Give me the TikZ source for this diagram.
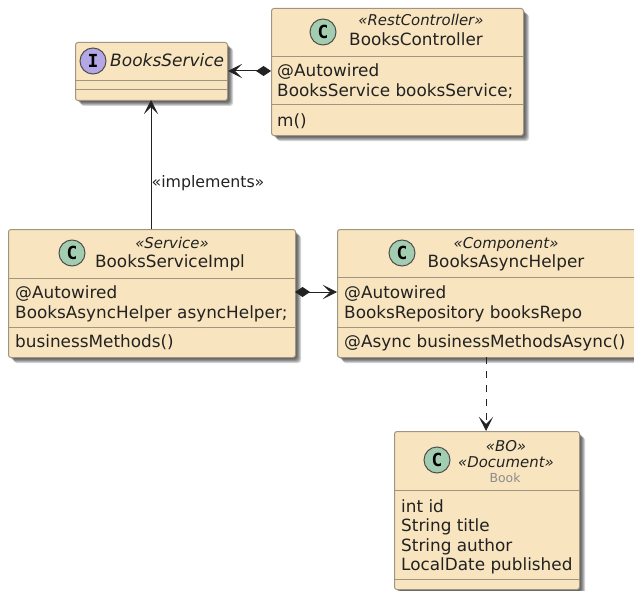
\documentclass[tikz,border=0pt]{standalone}
\usepackage{fontspec}
\setmainfont{DejaVu Sans}
\newfontfamily\markfont{DejaVu Sans Mono}
\usetikzlibrary{arrows.meta,calc}
\definecolor{boxfill}{HTML}{F8E5BF}
\definecolor{boxline}{HTML}{A09680}
\definecolor{inkc}{HTML}{222222}
\definecolor{cfill}{HTML}{A3CDB0}
\definecolor{ifill}{HTML}{B4A7E5}
\tikzset{
  x=1pt,y=-1pt,
  shadowlayer/.style={fill=black,fill opacity=0.17,draw=none,rounded corners=3pt},
  umlbox/.style={draw=boxline,fill=boxfill,line width=1pt,rounded corners=2.5pt},
  divider/.style={draw=boxline,line width=1pt},
  member/.style={anchor=base west,inner sep=0pt,font=\fontsize{16.85}{20}\selectfont,text=inkc},
  title/.style={anchor=base,inner sep=0pt,font=\fontsize{16.85}{20}\selectfont,text=inkc},
  stereo/.style={anchor=base,inner sep=0pt,font=\fontsize{14.9}{17}\selectfont\itshape,text=inkc},
  spotc/.style={circle,draw=inkc!80,line width=1pt,fill=cfill,minimum size=26pt,inner sep=0pt,text=black,font=\markfont\bfseries\fontsize{18}{18}\selectfont},
  spoti/.style={spotc,fill=ifill},
  link/.style={draw=inkc,line width=1pt},
  openhead/.tip={Stealth[length=14pt,width=14pt,inset=7pt,inkc]},
  diamondhead/.tip={Diamond[length=15pt,width=10pt,inkc]},
}
\newcommand{\umlframe}[5]{% name, x1, y1, x2, y2
  \foreach \d in {2,3,4,5,6}{
    \fill[shadowlayer] (#2+\d,#3+\d) rectangle (#4+\d,#5+\d);
  }
  \node[umlbox,anchor=north west,inner sep=0pt,minimum width=#4pt-#2pt,minimum height=#5pt-#3pt] (#1) at (#2,#3) {};
}
\begin{document}
\begin{tikzpicture}
\useasboundingbox (0,0) rectangle (634,591);
\begin{scope}
\clip (0,0) rectangle (634,591);

% BooksService
\umlframe{service}{75}{42}{227}{100}
\draw[divider] (75,81) -- (227,81);
\draw[divider] (75,90) -- (227,90);
\node[spoti] (servicespot) at (93,61) {I};
\node[anchor=base west,inner sep=0pt,font=\fontsize{17}{20}\selectfont\itshape,text=inkc] (servicename) at (110,67) {BooksService};

% BooksController
\umlframe{controller}{271}{8}{523}{135}
\draw[divider] (271,57) -- (523,57);
\draw[divider] (271,105) -- (523,105);
\node[spotc] (controllerspot) at (323,32) {C};
\node[stereo] (controllerstereo) at (421,26) {«RestController»};
\node[title] (controllername) at (416,46) {BooksController};
\node[member] (controllerm1) at (277,77) {@Autowired};
\node[member] (controllerm2) at (277,97) {BooksService booksService;};
\node[member] (controllerm3) at (277,126) {m()};

% BooksServiceImpl
\umlframe{impl}{8}{229}{295}{357}
\draw[divider] (8,278) -- (295,278);
\draw[divider] (8,327) -- (295,327);
\node[spotc] (implspot) at (72,253) {C};
\node[stereo] (implstereo) at (172,248) {«Service»};
\node[title] (implname) at (170,267) {BooksServiceImpl};
\node[member] (implm1) at (15,298) {@Autowired};
\node[member] (implm2) at (15,318) {BooksAsyncHelper asyncHelper;};
\node[member] (implm3) at (15,347) {businessMethods()};

% BooksAsyncHelper
\umlframe{helper}{337}{229}{640}{357}
\draw[divider] (337,277) -- (640,277);
\draw[divider] (337,327) -- (640,327);
\node[spotc] (helperspot) at (402,253) {C};
\node[stereo] (helperstereo) at (506,248) {«Component»};
\node[title] (helpername) at (506,267) {BooksAsyncHelper};
\node[member] (helperm1) at (344,298) {@Autowired};
\node[member] (helperm2) at (344,318) {BooksRepository booksRepo};
\node[member] (helperm3) at (344,347) {@Async businessMethodsAsync()};

% Book
\umlframe{book}{394}{431}{579}{589}
\draw[divider] (394,490) -- (579,490);
\draw[divider] (394,579) -- (579,579);
\node[spotc] (bookspot) at (437,460) {C};
\node[stereo] (bookstereo1) at (506,451) {«BO»};
\node[stereo] (bookstereo2) at (506,467) {«Document»};
\node[anchor=base,inner sep=0pt,font=\fontsize{12.4}{14}\selectfont,text=black!45] (bookname) at (505,482) {Book};
\node[member] (bookm1) at (401,512) {int id};
\node[member] (bookm2) at (401,531) {String title};
\node[member] (bookm3) at (401,551) {String author};
\node[member] (bookm4) at (401,570) {LocalDate published};

% Connectors
\coordinate (ctrlport) at (controller.north west |- 0,71);
\coordinate (svcport) at (service.north east |- 0,71);
\draw[link,{openhead}-{diamondhead}] (svcport) -- (ctrlport);

\coordinate (svcbottom) at (151,100);
\coordinate (implnorth) at (151,229);
\draw[link,-{openhead}] (implnorth) -- (svcbottom);
\node[anchor=base,inner sep=0pt,font=\fontsize{15.8}{18}\selectfont,text=inkc] (implementslabel) at (208,187) {«implements»};

\coordinate (implport) at (295,292);
\coordinate (helperport) at (337,292);
\draw[link,{diamondhead}-{openhead}] (implport) -- (helperport);

\coordinate (helpersouth) at (486,357);
\coordinate (booknorth) at (486,431);
\draw[link,dashed,dash pattern=on 7pt off 7pt,-{openhead}] (helpersouth) -- (booknorth);
\end{scope}
\end{tikzpicture}
\end{document}
